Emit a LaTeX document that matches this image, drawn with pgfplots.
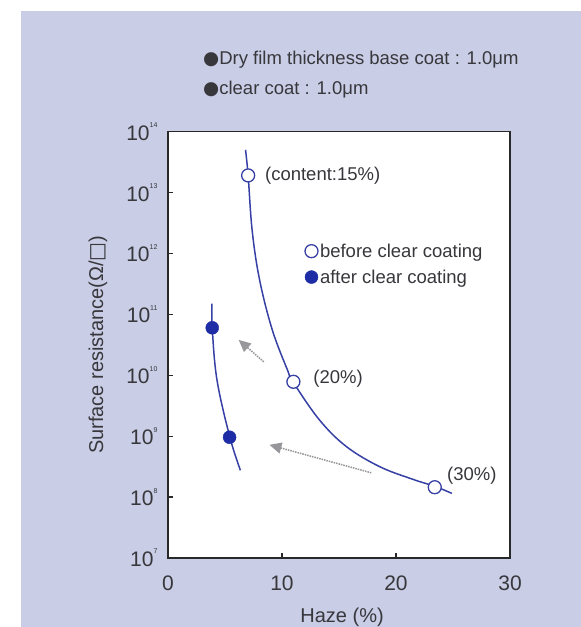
\documentclass[border=0pt]{standalone}
\usepackage{pgfplots}
\pgfplotsset{compat=1.18}
\usepackage{fontspec}
\setmainfont{Liberation Sans}
\newfontfamily\dv{DejaVu Sans}
\usetikzlibrary{arrows.meta}
\definecolor{bg}{RGB}{201,205,229}
\definecolor{curve}{RGB}{55,65,165}
\definecolor{fillb}{RGB}{30,45,165}
\definecolor{txt}{RGB}{55,55,60}
\definecolor{arr}{RGB}{150,150,155}
\newcommand\tl[1]{10\raisebox{0.6em}{\fontsize{7}{7}\selectfont #1}}
\begin{document}
\begin{tikzpicture}
\path[use as bounding box, fill=white] (0pt,0pt) rectangle (581pt,627pt);
\fill[bg] (21pt,0pt) rectangle (581pt,616pt);
\node[anchor=base west, font=\fontsize{18.5}{20}\selectfont, text=txt, inner sep=0] at (203pt,562pt) {{\dv ●}Dry film thickness base coat : 1.0μm};
\node[anchor=base west, font=\fontsize{18.5}{20}\selectfont, text=txt, inner sep=0] at (203pt,532pt) {{\dv ●}clear coat : 1.0μm};
\begin{axis}[
  at={(168pt,69pt)}, anchor=south west,
  scale only axis, width=342pt, height=426.5pt,
  xmin=0, xmax=30, ymode=log, ymin=1e7, ymax=1e14,
  axis background/.style={fill=white},
  xtick={0,10,20,30},
  xticklabels={0,10,20,30},
  ytick={1e7,1e8,1e9,1e10,1e11,1e12,1e13,1e14},
  yticklabels={\tl{7},\tl{8},\tl{9},\tl{10},\tl{11},\tl{12},\tl{13},\tl{14}},
  yminorticks=false, xminorticks=false,
  tick align=inside, tick pos=left,
  major tick length=5pt,
  axis line style={draw={rgb,255:red,40;green,40;blue,40}, line width=1.3pt},
  tick style={line width=1.2pt, draw={rgb,255:red,40;green,40;blue,40}},
  ticklabel style={text=txt},
  xticklabel style={font=\fontsize{21}{21}\selectfont, yshift=-14pt},
  yticklabel style={font=\fontsize{21}{21}\selectfont, xshift=-7pt},
  xlabel={Haze (\%)},
  ylabel={Surface resistance(Ω/{\dv □})},
  label style={font=\fontsize{20}{20}\selectfont, text=txt},
  xlabel style={at={(axis description cs:0.509,-0.138)}, anchor=center},
  ylabel style={at={(axis description cs:-0.205,0.5)}, anchor=center},
  clip=false,
  legend style={at={(rel axis cs:0.40,0.742)}, anchor=north west, draw=none, fill=none,
    font=\fontsize{18.5}{20}\selectfont, text=txt, row sep=7pt, inner sep=0pt,
    nodes={inner sep=2pt}},
  legend cell align=left,
  legend image code/.code={\draw[#1] plot coordinates {(7pt,0pt)};},
]
% before clear coating curve
\addplot[curve, line width=1.5pt, smooth, tension=0.6, forget plot] coordinates {
 (6.80,5.0e13) (7.03,1.9e13) (7.38,2.4e12) (8.03,3.7e11) (9.14,5.6e10)
 (10.47,1.23e10) (11.0,7.6e9) (13.27,1.86e9) (15.62,6.8e8) (18.56,3.16e8)
 (21.5,1.95e8) (23.4,1.5e8) (24.9,1.15e8)};
% after clear coating curve
\addplot[curve, line width=1.5pt, smooth, tension=0.6, forget plot] coordinates {
 (3.85,1.5e11) (3.88,6.0e10) (4.29,8.5e9) (5.40,1.0e9) (6.35,2.75e8)};
% arrows
\addplot[arr, densely dotted, line width=1.5pt, -{Triangle[length=12pt,width=11pt]}, forget plot] coordinates {(8.4,1.66e10) (6.2,3.8e10)};
\addplot[arr, densely dotted, line width=1.5pt, -{Triangle[length=12pt,width=11pt]}, forget plot] coordinates {(17.83,2.5e8) (8.9,7.2e8)};
% points
\addplot[only marks, mark=*, mark size=6.5pt, mark options={draw=curve, fill=white, line width=1.3pt}] coordinates {
 (7.03,1.9e13) (11.0,7.8e9) (23.4,1.45e8)};
\addlegendentry{before clear coating}
\addplot[only marks, mark=*, mark size=6.5pt, mark options={draw=fillb, fill=fillb}] coordinates {
 (3.88,6.0e10) (5.40,9.6e8)};
\addlegendentry{after clear coating}
\node[anchor=west, inner sep=0, font=\fontsize{18.5}{20}\selectfont, text=txt] at (axis cs:8.5,1.9e13) {(content:15\%)};
\node[anchor=west, inner sep=0, font=\fontsize{18.5}{20}\selectfont, text=txt] at (axis cs:12.74,8.7e9) {(20\%)};
\node[anchor=west, inner sep=0, font=\fontsize{18.5}{20}\selectfont, text=txt] at (axis cs:24.47,2.2e8) {(30\%)};
\end{axis}
\end{tikzpicture}
\end{document}
